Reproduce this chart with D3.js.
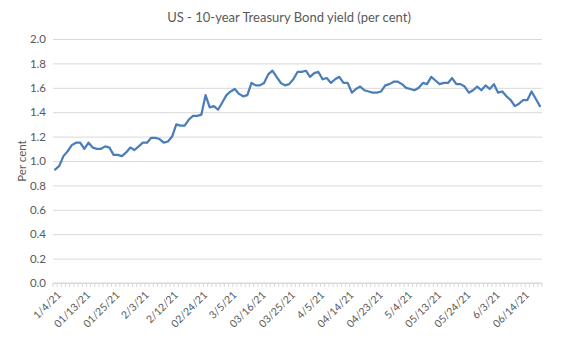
<!DOCTYPE html>
<html>
<head>
<meta charset="utf-8">
<script src="https://cdn.jsdelivr.net/npm/d3@7"></script>
<style>
  html, body { margin: 0; padding: 0; background: #fff; }
  svg { display: block; font-family: Lato, "Open Sans", sans-serif; }
</style>
</head>
<body>
<svg id="chart" width="565" height="340"></svg>
<script>
// Trading days, Jan–Jun 2021
const dates = [
  "1/4/21","1/5/21","1/6/21","1/7/21","1/8/21","1/11/21","1/12/21","1/13/21","1/14/21","1/15/21",
  "1/19/21","1/20/21","1/21/21","1/22/21","1/25/21","1/26/21","1/27/21","1/28/21","1/29/21",
  "2/1/21","2/2/21","2/3/21","2/4/21","2/5/21","2/8/21","2/9/21","2/10/21","2/11/21","2/12/21",
  "2/16/21","2/17/21","2/18/21","2/19/21","2/22/21","2/23/21","2/24/21","2/25/21","2/26/21",
  "3/1/21","3/2/21","3/3/21","3/4/21","3/5/21","3/8/21","3/9/21","3/10/21","3/11/21","3/12/21",
  "3/15/21","3/16/21","3/17/21","3/18/21","3/19/21","3/22/21","3/23/21","3/24/21","3/25/21","3/26/21",
  "3/29/21","3/30/21","3/31/21",
  "4/1/21","4/2/21","4/5/21","4/6/21","4/7/21","4/8/21","4/9/21","4/12/21","4/13/21","4/14/21",
  "4/15/21","4/16/21","4/19/21","4/20/21","4/21/21","4/22/21","4/23/21","4/26/21","4/27/21","4/28/21",
  "4/29/21","4/30/21",
  "5/3/21","5/4/21","5/5/21","5/6/21","5/7/21","5/10/21","5/11/21","5/12/21","5/13/21","5/14/21",
  "5/17/21","5/18/21","5/19/21","5/20/21","5/21/21","5/24/21","5/25/21","5/26/21","5/27/21","5/28/21",
  "6/1/21","6/2/21","6/3/21","6/4/21","6/7/21","6/8/21","6/9/21","6/10/21","6/11/21","6/14/21",
  "6/15/21","6/16/21","6/17/21","6/18/21"
];

// 10-year yield, per cent
const yields = [
  0.93,0.96,1.04,1.08,1.13,1.15,1.15,1.10,1.15,1.11,
  1.10,1.10,1.12,1.11,1.05,1.05,1.04,1.07,1.11,
  1.09,1.12,1.15,1.15,1.19,1.19,1.18,1.15,1.16,1.20,
  1.30,1.29,1.29,1.34,1.37,1.37,1.38,1.54,1.44,
  1.45,1.42,1.48,1.54,1.57,1.59,1.55,1.53,1.54,1.64,
  1.62,1.62,1.64,1.71,1.74,1.69,1.64,1.62,1.63,1.67,
  1.73,1.73,1.74,
  1.69,1.72,1.73,1.67,1.68,1.64,1.67,1.69,1.64,1.64,
  1.56,1.59,1.61,1.58,1.57,1.56,1.56,1.57,1.62,1.63,
  1.65,1.65,
  1.63,1.60,1.59,1.58,1.60,1.64,1.63,1.69,1.66,1.63,
  1.64,1.64,1.68,1.63,1.63,1.61,1.56,1.58,1.61,1.58,
  1.62,1.59,1.63,1.56,1.57,1.53,1.50,1.45,1.47,1.50,
  1.50,1.57,1.51,1.45
];

// Axis labels shown every seventh trading day
const tickLabels = [
  "1/4/21","01/13/21","01/25/21","2/3/21","2/12/21","02/24/21","3/5/21","03/16/21","03/25/21",
  "4/5/21","04/14/21","04/23/21","5/4/21","05/13/21","05/24/21","6/3/21","06/14/21"
];
const labelStep = 7;

const yTicks = [0, 0.2, 0.4, 0.6, 0.8, 1.0, 1.2, 1.4, 1.6, 1.8, 2.0];

const margin = { top: 39, right: 23, bottom: 57, left: 53 };
const W = 565, H = 340;
const width = W - margin.left - margin.right;
const height = H - margin.top - margin.bottom;

const svg = d3.select("#chart");

svg.append("text")
  .attr("x", 289).attr("y", 22)
  .attr("text-anchor", "middle")
  .attr("fill", "#595959")
  .style("font-size", "13px")
  .text("US - 10-year Treasury Bond yield (per cent)");

const g = svg.append("g").attr("transform", `translate(${margin.left},${margin.top})`);

const x = d3.scaleBand().domain(dates).range([0, width]).padding(0);
const y = d3.scaleLinear().domain([0, 2.0]).range([height, 0]);

// Horizontal gridlines and value labels
const yAxis = g.append("g")
  .call(d3.axisLeft(y).tickValues(yTicks).tickSize(-width).tickPadding(7).tickFormat(d3.format(".1f")));
yAxis.select(".domain").remove();
yAxis.selectAll(".tick line").attr("stroke", "#d9d9d9").attr("stroke-width", 1);
yAxis.selectAll(".tick text")
  .attr("fill", "#595959")
  .style("font-size", "11.5px")
  .style("font-family", "Lato, 'Open Sans', sans-serif");

// Category axis: baseline and a small tick at each category boundary
g.append("line")
  .attr("x1", 0).attr("x2", width)
  .attr("y1", height).attr("y2", height)
  .attr("stroke", "#d9d9d9");

const boundaries = dates.map(d => x(d)).concat([x(dates[dates.length - 1]) + x.bandwidth()]);
g.append("g").selectAll("line")
  .data(boundaries)
  .join("line")
  .attr("x1", d => d).attr("x2", d => d)
  .attr("y1", height).attr("y2", height + 4)
  .attr("stroke", "#d9d9d9");

g.append("g").selectAll("text")
  .data(tickLabels)
  .join("text")
  .attr("transform", (d, i) => {
    const cx = x(dates[i * labelStep]) + x.bandwidth() / 2;
    return `translate(${cx + 4},${height + 10}) rotate(-45)`;
  })
  .attr("text-anchor", "end")
  .attr("dy", "0.35em")
  .attr("fill", "#595959")
  .style("font-size", "10.5px")
  .text(d => d);

// Y axis title
svg.append("text")
  .attr("transform", `translate(22,${margin.top + height / 2}) rotate(-90)`)
  .attr("text-anchor", "middle")
  .attr("dy", "0.35em")
  .attr("fill", "#595959")
  .style("font-size", "11.5px")
  .text("Per cent");

// Yield line
const line = d3.line()
  .x((d, i) => x(dates[i]) + x.bandwidth() / 2)
  .y(d => y(d));

g.append("path")
  .datum(yields)
  .attr("fill", "none")
  .attr("stroke", "#4a7ebb")
  .attr("stroke-width", 2.25)
  .attr("stroke-linejoin", "round")
  .attr("stroke-linecap", "round")
  .attr("d", line);
</script>
</body>
</html>
